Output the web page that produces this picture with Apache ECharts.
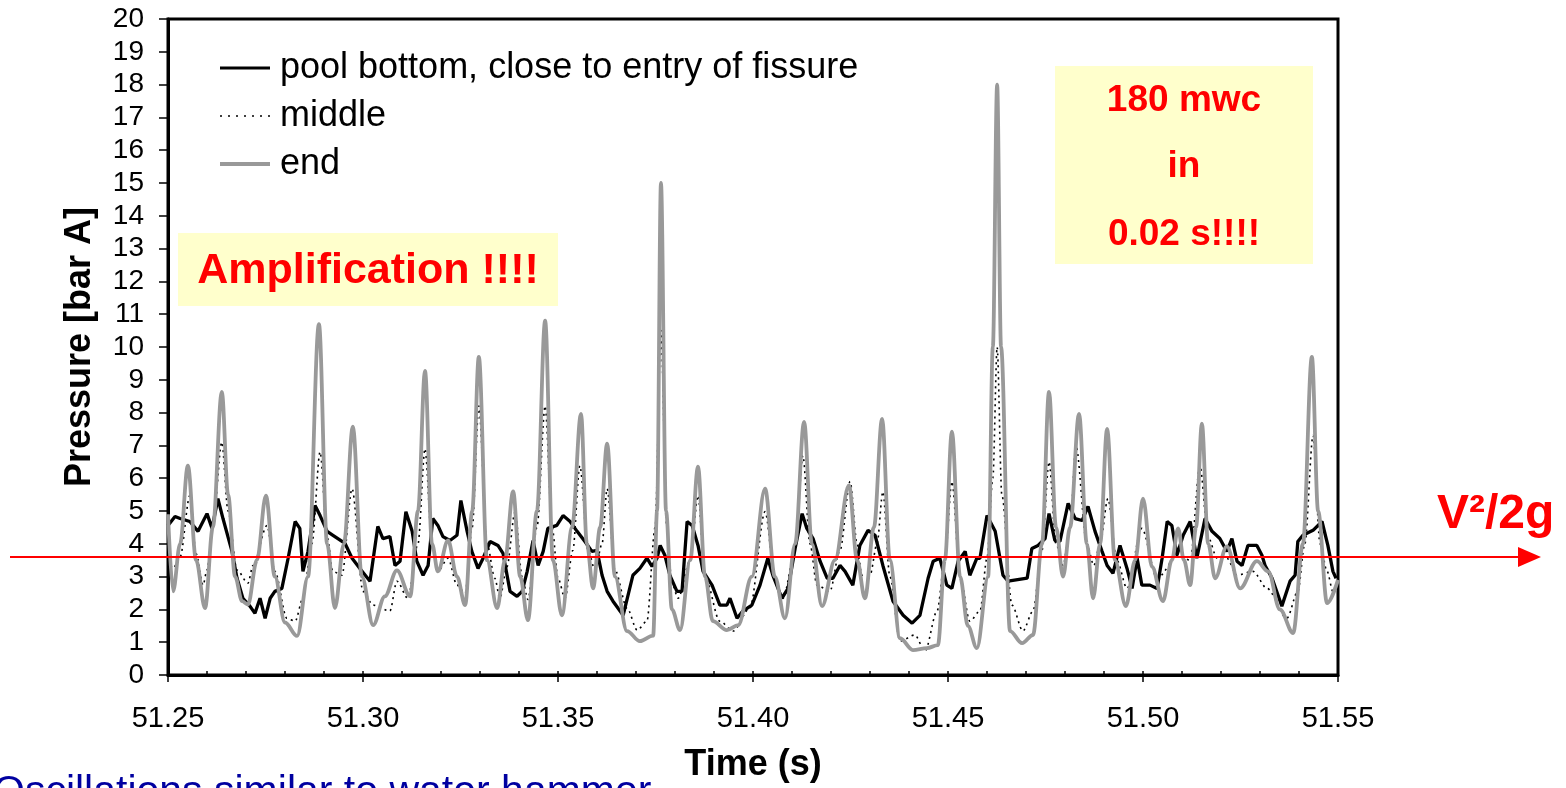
<!DOCTYPE html>
<html><head><meta charset="utf-8">
<script src="https://cdn.jsdelivr.net/npm/echarts@6/dist/echarts.min.js"></script>
<style>html,body{margin:0;padding:0;background:#fff;overflow:hidden}#c{width:1566px;height:788px}</style>
</head><body><div id="c"></div>
<script>
const FONT = '"Liberation Sans", Arial, Helvetica, sans-serif';
const seriesNames = ['pool bottom, close to entry of fissure', 'middle', 'end'];
const xAxisName = 'Time (s)';
const yAxisName = 'Pressure [bar A]';
const V2G_LEVEL = 3.6;

// pool bottom [time s, pressure bar]
const bottomData = [
[51.2500,4.56],[51.2518,4.83],[51.2531,4.77],[51.2556,4.68],[51.2577,4.38],[51.2600,4.92],[51.2613,4.47],[51.2628,5.38],[51.2641,4.77],[51.2664,3.77],
[51.2677,2.95],[51.2692,2.34],[51.2710,2.10],[51.2723,1.88],[51.2736,2.34],[51.2749,1.73],[51.2762,2.34],[51.2774,2.55],[51.2792,2.64],[51.2808,3.56],
[51.2826,4.68],[51.2838,4.47],[51.2846,3.16],[51.2859,3.77],[51.2877,5.17],[51.2890,4.86],[51.2908,4.38],[51.2923,4.26],[51.2954,4.01],[51.2972,3.56],
[51.2992,3.25],[51.3018,2.86],[51.3038,4.53],[51.3051,4.16],[51.3069,4.22],[51.3082,3.34],[51.3095,3.47],[51.3110,4.98],[51.3126,4.38],[51.3138,3.47],
[51.3154,3.04],[51.3167,3.34],[51.3179,4.77],[51.3192,4.56],[51.3205,4.22],[51.3223,4.10],[51.3241,4.26],[51.3251,5.32],[51.3267,4.38],[51.3279,3.77],
[51.3295,3.25],[51.3308,3.56],[51.3326,4.07],[51.3346,3.95],[51.3359,3.71],[51.3377,2.55],[51.3395,2.40],[51.3408,2.55],[51.3421,3.16],[51.3436,4.10],
[51.3449,3.34],[51.3462,3.77],[51.3474,4.47],[51.3497,4.56],[51.3513,4.86],[51.3531,4.68],[51.3549,4.38],[51.3569,4.07],[51.3587,3.77],[51.3600,3.80],
[51.3613,3.04],[51.3626,2.55],[51.3641,2.25],[51.3667,1.82],[51.3692,3.04],[51.3710,3.25],[51.3728,3.56],[51.3741,3.31],[51.3754,3.56],[51.3762,3.95],
[51.3774,3.65],[51.3787,3.04],[51.3805,2.55],[51.3818,2.55],[51.3831,4.68],[51.3844,4.56],[51.3859,3.95],[51.3872,3.16],[51.3895,2.74],[51.3915,2.13],
[51.3933,2.13],[51.3941,2.34],[51.3959,1.73],[51.3974,1.95],[51.3997,2.13],[51.4018,2.74],[51.4038,3.56],[51.4051,3.04],[51.4074,2.34],[51.4090,2.64],
[51.4108,3.86],[51.4126,4.92],[51.4138,4.47],[51.4154,4.16],[51.4172,3.47],[51.4190,2.95],[51.4205,2.95],[51.4223,3.34],[51.4236,3.16],[51.4256,2.74],
[51.4274,3.95],[51.4295,4.41],[51.4313,4.26],[51.4333,3.34],[51.4359,2.25],[51.4385,1.82],[51.4408,1.58],[51.4428,1.82],[51.4449,2.95],[51.4462,3.47],
[51.4479,3.56],[51.4497,2.74],[51.4510,2.64],[51.4526,3.47],[51.4544,3.77],[51.4556,3.04],[51.4574,3.56],[51.4582,3.56],[51.4600,4.86],[51.4621,4.38],
[51.4641,3.04],[51.4654,2.86],[51.4703,2.95],[51.4715,3.86],[51.4731,3.95],[51.4749,4.16],[51.4759,4.92],[51.4774,4.10],[51.4787,4.07],[51.4808,5.23],
[51.4826,4.77],[51.4844,4.71],[51.4859,5.14],[51.4877,4.38],[51.4895,3.77],[51.4908,3.34],[51.4923,3.10],[51.4941,3.95],[51.4959,3.25],[51.4972,2.64],
[51.4985,3.56],[51.4997,2.74],[51.5018,2.74],[51.5036,2.64],[51.5049,3.56],[51.5062,4.68],[51.5074,4.56],[51.5087,3.65],[51.5103,4.26],[51.5121,4.68],
[51.5138,3.56],[51.5159,4.77],[51.5177,4.38],[51.5197,4.16],[51.5215,3.77],[51.5228,4.16],[51.5241,3.47],[51.5254,3.34],[51.5269,3.95],[51.5292,3.95],
[51.5305,3.65],[51.5313,3.34],[51.5331,2.95],[51.5356,2.10],[51.5377,2.86],[51.5390,3.04],[51.5397,4.07],[51.5410,4.26],[51.5436,4.41],[51.5459,4.68],
[51.5474,3.95],[51.5487,3.16],[51.5495,2.95]
];

// middle [time s, pressure bar]
const middleData = [
[51.2500,3.50],[51.2513,3.25],[51.2531,3.60],[51.2556,5.47],[51.2572,3.70],[51.2590,2.74],[51.2600,3.20],[51.2615,4.50],[51.2638,7.10],[51.2654,5.00],
[51.2677,3.20],[51.2705,2.80],[51.2718,3.34],[51.2754,4.56],[51.2774,3.16],[51.2805,1.73],[51.2826,1.64],[51.2846,2.34],[51.2869,4.00],[51.2890,6.80],
[51.2908,4.20],[51.2923,3.16],[51.2946,3.04],[51.2972,5.68],[51.3000,2.55],[51.3026,2.13],[51.3069,1.95],[51.3087,2.86],[51.3115,2.34],[51.3141,4.00],
[51.3159,6.90],[51.3177,4.00],[51.3192,3.16],[51.3218,3.56],[51.3241,2.74],[51.3262,2.50],[51.3280,4.50],[51.3297,8.20],[51.3318,4.00],[51.3338,2.95],
[51.3351,2.34],[51.3369,3.30],[51.3390,4.98],[51.3408,3.00],[51.3423,2.30],[51.3446,4.50],[51.3467,8.20],[51.3485,4.50],[51.3500,2.95],[51.3518,2.34],
[51.3538,3.80],[51.3556,6.38],[51.3577,3.80],[51.3595,3.20],[51.3613,4.00],[51.3626,5.68],[51.3646,3.20],[51.3677,2.04],[51.3703,1.37],[51.3728,1.64],
[51.3749,4.50],[51.3764,10.50],[51.3779,4.50],[51.3792,2.80],[51.3808,2.34],[51.3839,3.50],[51.3859,5.47],[51.3877,3.00],[51.3915,1.64],[51.3949,1.34],
[51.3992,2.04],[51.4031,4.98],[51.4056,3.00],[51.4077,2.34],[51.4108,3.80],[51.4128,6.69],[51.4146,4.00],[51.4164,2.74],[51.4197,2.55],[51.4223,3.80],
[51.4249,5.90],[51.4267,4.00],[51.4279,3.04],[51.4300,3.04],[51.4318,4.00],[51.4333,5.59],[51.4351,3.00],[51.4377,1.03],[51.4415,1.22],[51.4441,0.73],
[51.4472,1.95],[51.4492,3.50],[51.4510,5.90],[51.4531,3.00],[51.4556,1.64],[51.4582,1.95],[51.4600,3.56],[51.4615,6.00],[51.4626,10.00],[51.4638,5.50],
[51.4664,2.13],[51.4692,1.34],[51.4718,1.95],[51.4741,3.80],[51.4759,6.50],[51.4777,4.00],[51.4795,3.34],[51.4813,4.50],[51.4828,7.00],[51.4856,4.00],
[51.4874,3.34],[51.4890,4.00],[51.4910,5.38],[51.4933,3.50],[51.4959,2.64],[51.4997,4.47],[51.5036,2.95],[51.5090,3.65],[51.5121,3.50],[51.5146,6.38],
[51.5167,4.20],[51.5190,3.56],[51.5215,3.56],[51.5241,3.04],[51.5282,3.16],[51.5318,2.64],[51.5369,1.73],[51.5397,2.55],[51.5415,4.00],[51.5436,7.30],
[51.5454,4.00],[51.5472,3.16],[51.5487,2.55],[51.5500,2.70]
];

// end [time s, pressure bar]
const endData = [
[51.2500,4.90],[51.2513,2.55],[51.2531,4.00],[51.2551,6.38],[51.2572,3.50],[51.2595,2.04],[51.2615,4.50],[51.2638,8.63],[51.2654,5.50],[51.2672,3.00],
[51.2690,2.25],[51.2705,2.15],[51.2728,3.50],[51.2751,5.47],[51.2774,3.00],[51.2800,1.60],[51.2831,1.19],[51.2859,3.00],[51.2887,10.70],[51.2908,4.00],
[51.2928,2.04],[51.2951,4.00],[51.2974,7.57],[51.2997,3.00],[51.3026,1.52],[51.3056,2.40],[51.3087,3.19],[51.3121,2.40],[51.3141,5.00],[51.3159,9.27],
[51.3177,4.00],[51.3192,3.16],[51.3218,4.10],[51.3241,3.00],[51.3262,2.13],[51.3280,5.00],[51.3297,9.70],[51.3318,3.50],[51.3344,2.04],[51.3364,3.50],
[51.3385,5.60],[51.3403,3.00],[51.3423,1.67],[51.3446,5.00],[51.3467,10.80],[51.3487,3.50],[51.3510,1.82],[51.3536,4.50],[51.3559,7.96],[51.3574,4.00],
[51.3590,2.64],[51.3608,4.50],[51.3626,7.05],[51.3646,3.00],[51.3677,1.34],[51.3710,1.03],[51.3744,1.20],[51.3754,5.00],[51.3764,15.00],[51.3777,5.00],
[51.3792,2.00],[51.3813,1.37],[51.3839,3.50],[51.3859,6.35],[51.3877,3.00],[51.3897,1.64],[51.3933,1.37],[51.3962,1.52],[51.3997,3.00],[51.4031,5.68],
[51.4056,3.00],[51.4082,1.73],[51.4108,4.00],[51.4131,7.72],[51.4151,4.00],[51.4177,2.10],[51.4210,3.50],[51.4246,5.78],[51.4267,3.50],[51.4287,2.34],
[51.4310,4.50],[51.4331,7.81],[51.4351,3.50],[51.4377,1.12],[51.4410,0.76],[51.4446,0.82],[51.4474,0.91],[51.4492,3.50],[51.4510,7.42],[51.4531,3.00],
[51.4551,1.50],[51.4574,0.82],[51.4603,3.00],[51.4615,10.00],[51.4626,18.00],[51.4636,10.00],[51.4659,1.34],[51.4690,0.97],[51.4718,1.22],[51.4741,4.00],
[51.4759,8.63],[51.4777,4.50],[51.4795,3.00],[51.4813,4.50],[51.4836,7.96],[51.4856,4.00],[51.4872,2.34],[51.4890,4.00],[51.4908,7.50],[51.4928,3.50],
[51.4956,2.10],[51.4980,3.50],[51.5000,5.38],[51.5023,3.30],[51.5051,2.25],[51.5074,3.50],[51.5090,4.47],[51.5105,3.50],[51.5121,2.74],[51.5136,4.50],
[51.5151,7.66],[51.5167,4.00],[51.5185,2.95],[51.5215,3.92],[51.5249,2.64],[51.5292,3.47],[51.5321,3.16],[51.5351,2.00],[51.5385,1.28],[51.5410,4.00],
[51.5433,9.70],[51.5449,5.00],[51.5472,2.19],[51.5500,2.90]
];

const annotationLeft = 'Amplification !!!!';
const annotationRight = ['180 mwc', 'in', '0.02 s!!!!'];
const arrowLabel = 'V\u00B2/2g';
const footNote = 'Oscillations similar to water hammer';

const chart = echarts.init(document.getElementById('c'), null, {renderer: 'canvas'});

const legendLine = [
  {color: '#000', width: 3, type: 'solid'},
  {color: '#000', width: 1.6, type: [2, 6]},
  {color: '#999999', width: 4, type: 'solid'}
];

const option = {
  backgroundColor: '#ffffff',
  animation: false,
  textStyle: {fontFamily: FONT},
  grid: {left: 168, top: 19, right: 228, bottom: 111, show: true, borderColor: '#000', borderWidth: 3, backgroundColor: 'transparent'},
  legend: {
    orient: 'vertical', left: 218, top: 48, padding: 0, itemWidth: 50, itemHeight: 14, itemGap: 8,
    data: seriesNames.map((n, i) => ({name: n, itemStyle: {opacity: 0}, lineStyle: legendLine[i]})),
    itemStyle: {opacity: 0},
    textStyle: {fontSize: 36, fontFamily: FONT, color: '#000', lineHeight: 40, padding: [0, 0, 0, 5]}
  },
  xAxis: [{
    type: 'value', min: 51.25, max: 51.55, interval: 0.05,
    name: xAxisName, nameLocation: 'middle', nameGap: 72,
    nameTextStyle: {fontSize: 36, fontWeight: 'bold', color: '#000', fontFamily: FONT},
    axisLine: {show: true, onZero: false, lineStyle: {color: '#000', width: 3}},
    axisTick: {show: true, inside: false, length: 7, lineStyle: {color: '#000', width: 1.5}},
    axisLabel: {fontSize: 29, color: '#000', margin: 29, fontFamily: FONT, formatter: v => v.toFixed(2)},
    splitLine: {show: false}
  }, {
    type: 'value', min: 51.25, max: 51.55, interval: 0.01, position: 'bottom',
    axisLine: {show: false}, axisLabel: {show: false}, splitLine: {show: false},
    axisTick: {show: true, inside: true, length: 4, lineStyle: {color: '#000', width: 1.5}}
  }],
  yAxis: {
    type: 'value', min: 0, max: 20, interval: 1,
    name: yAxisName, nameLocation: 'middle', nameGap: 70, nameRotate: 90,
    nameTextStyle: {fontSize: 36, fontWeight: 'bold', color: '#000', fontFamily: FONT},
    axisLine: {show: true, lineStyle: {color: '#000', width: 3}},
    axisTick: {show: true, inside: false, length: 9, lineStyle: {color: '#000', width: 1.5}},
    axisLabel: {fontSize: 28, color: '#000', margin: 24, fontFamily: FONT},
    splitLine: {show: false}
  },
  series: [
    {name: seriesNames[0], type: 'line', data: bottomData, showSymbol: false, symbol: 'none',
     lineStyle: {color: '#000', width: 3.3}, itemStyle: {color: '#000'}, smooth: false, z: 2},
    {name: seriesNames[1], type: 'line', data: middleData, showSymbol: false, symbol: 'none',
     lineStyle: {color: '#000', width: 1.6, type: [2, 4]}, itemStyle: {color: '#000'}, smooth: 0.3, smoothMonotone: 'x', z: 3},
    {name: seriesNames[2], type: 'line', data: endData, showSymbol: false, symbol: 'none',
     lineStyle: {color: '#999999', width: 3.8}, itemStyle: {color: '#999999'}, smooth: 0.35, smoothMonotone: 'x', z: 4}
  ]
};
chart.setOption(option);

const yArrow = chart.convertToPixel({yAxisIndex: 0}, V2G_LEVEL);
const red = '#FF0000';
chart.setOption({
  graphic: [
    {type: 'rect', shape: {x: 178, y: 233, width: 380, height: 73}, style: {fill: '#FFFFCC'}, z: 10},
    {type: 'text', x: 368, y: 271, z: 11, style: {text: annotationLeft, fill: red, fontSize: 43, fontWeight: 'bold', fontFamily: FONT, align: 'center', verticalAlign: 'middle'}},
    {type: 'rect', shape: {x: 1055, y: 66, width: 258, height: 198}, style: {fill: '#FFFFCC'}, z: 10},
    {type: 'text', x: 1184, y: 101, z: 11, style: {text: annotationRight[0], fill: red, fontSize: 37, fontWeight: 'bold', fontFamily: FONT, align: 'center', verticalAlign: 'middle'}},
    {type: 'text', x: 1184, y: 167, z: 11, style: {text: annotationRight[1], fill: red, fontSize: 37, fontWeight: 'bold', fontFamily: FONT, align: 'center', verticalAlign: 'middle'}},
    {type: 'text', x: 1184, y: 235, z: 11, style: {text: annotationRight[2], fill: red, fontSize: 37, fontWeight: 'bold', fontFamily: FONT, align: 'center', verticalAlign: 'middle'}},
    {type: 'line', shape: {x1: 10, y1: yArrow, x2: 1522, y2: yArrow}, style: {stroke: red, lineWidth: 2}, z: 20},
    {type: 'polygon', shape: {points: [[1541, yArrow], [1518, yArrow - 10], [1518, yArrow + 10]]}, style: {fill: red}, z: 20},
    {type: 'text', x: 1437, y: 515, z: 20, style: {text: arrowLabel, fill: red, fontSize: 48, fontWeight: 'bold', fontFamily: FONT, align: 'left', verticalAlign: 'middle'}},
    {type: 'text', x: -7, y: 793, z: 20, style: {text: footNote, fill: '#0000A0', fontSize: 41, fontFamily: FONT, align: 'left', verticalAlign: 'middle'}}
  ]
});
</script></body></html>
